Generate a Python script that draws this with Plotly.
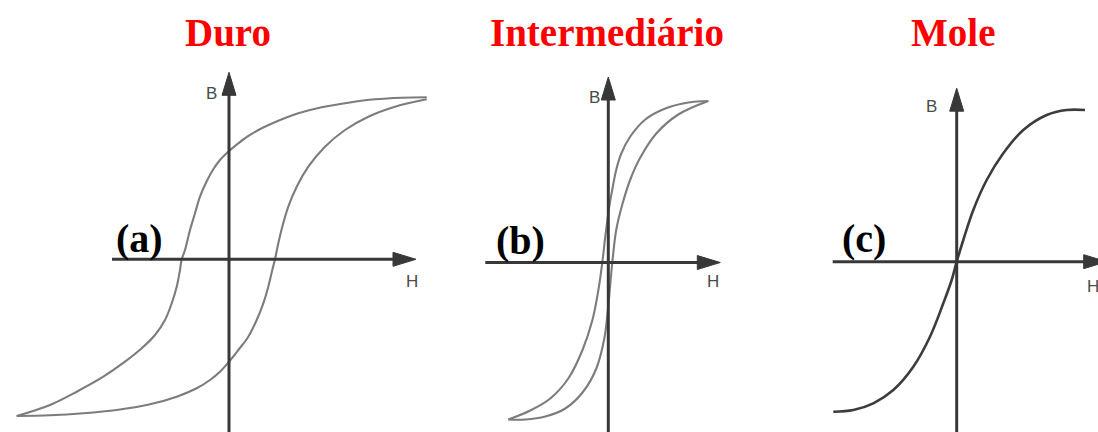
import plotly.graph_objects as go

# ---------------------------------------------------------------------------
# Hysteresis curves B(H) for three kinds of magnetic material (arbitrary units)
# ---------------------------------------------------------------------------

# (a) hard material: wide loop (descending branch from +saturation, ascending back)
duro_desc_H = [1.977, 1.727, 1.46, 1.193, 0.927, 0.693, 0.493, 0.327, 0.193, 0.093, 0.0,
               -0.09, -0.157, -0.223, -0.29, -0.34, -0.39, -0.44, -0.473, -0.49, -0.523,
               -0.573, -0.64, -0.74, -0.873, -1.04, -1.257, -1.523, -1.79, -2.123]
duro_desc_B = [1.62, 1.616, 1.60, 1.566, 1.52, 1.46, 1.386, 1.31, 1.233, 1.16, 1.083,
               0.993, 0.90, 0.78, 0.626, 0.46, 0.293, 0.093, 0.0, -0.107, -0.274,
               -0.44, -0.607, -0.757, -0.89, -1.024, -1.174, -1.324, -1.457, -1.567]
duro_asc_H = [-2.123, -1.79, -1.457, -1.123, -0.79, -0.523, -0.323, -0.19, -0.09, 0.0,
              0.093, 0.193, 0.277, 0.343, 0.393, 0.433, 0.46, 0.493, 0.533, 0.593, 0.677,
              0.793, 0.96, 1.16, 1.393, 1.66, 1.977]
duro_asc_B = [-1.567, -1.56, -1.54, -1.507, -1.45, -1.374, -1.29, -1.207, -1.124, -1.024,
              -0.907, -0.774, -0.607, -0.44, -0.274, -0.107, 0.0, 0.16, 0.326, 0.526, 0.726,
              0.926, 1.126, 1.293, 1.426, 1.526, 1.60]

# (b) intermediate material: narrow loop
inter_desc_H = [1.00, 0.80, 0.57, 0.37, 0.22, 0.13, 0.08, 0.04, 0.01, -0.03, -0.06,
                -0.10, -0.16, -0.26, -0.40, -0.58, -0.78, -1.00]
inter_desc_B = [1.615, 1.60, 1.54, 1.43, 1.26, 1.09, 0.93, 0.73, 0.56, 0.26, 0.00,
                -0.28, -0.58, -0.88, -1.16, -1.36, -1.48, -1.57]
inter_asc_H = [-1.00, -0.83, -0.63, -0.43, -0.25, -0.12, -0.04, 0.00, 0.04, 0.08, 0.14,
               0.22, 0.32, 0.48, 0.70, 1.00]
inter_asc_B = [-1.57, -1.57, -1.54, -1.46, -1.29, -1.06, -0.76, -0.43, 0.00, 0.33, 0.58,
               0.83, 1.05, 1.29, 1.48, 1.615]

# (c) soft material: no hysteresis
mole_H = [-1.234, -1.034, -0.834, -0.634, -0.434, -0.267, -0.134, -0.05, 0.0, 0.066,
          0.166, 0.30, 0.466, 0.666, 0.90, 1.10, 1.283]
mole_B = [-1.50, -1.483, -1.416, -1.283, -1.05, -0.75, -0.416, -0.183, 0.0, 0.217,
          0.517, 0.817, 1.084, 1.317, 1.467, 1.517, 1.517]

titles = ["Duro", "Intermediário", "Mole"]
tags = ["(a)", "(b)", "(c)"]

# ---------------------------------------------------------------------------
# Layout geometry (page pixels)
# ---------------------------------------------------------------------------
W, HGT = 1098, 432
PX = 100.0                      # pixels per data unit, both directions

origins = [(229.0, 259.3), (608.3, 262.5), (956.7, 261.7)]
# extents of the H and B axis arrows in data units: (H_min, H_tip), (B_min, B_tip)
axis_ext = [((-1.17, 1.87), (-1.75, 1.87)),
            ((-1.23, 1.12), (-1.72, 1.855)),
            ((-1.24, 1.50), (-1.72, 1.735))]
title_pos = [(228, 32), (607, 32), (953, 32)]
tag_pos = [(139, 238), (520, 240), (864, 238)]
b_lab = [(211.0, 93.5), (594.5, 97.5), (931.5, 106.5)]
h_lab = [(412.5, 281.5), (712.5, 281.5), (1093.0, 286.5)]

AXIS_COLOR = "#383838"
LOOP_COLOR = "#7c7c7c"
SOFT_COLOR = "#3c3c3c"

fig = go.Figure()

refs = [("x", "y"), ("x2", "y2"), ("x3", "y3")]
curves = [
    [(duro_desc_H, duro_desc_B), (duro_asc_H, duro_asc_B)],
    [(inter_desc_H, inter_desc_B), (inter_asc_H, inter_asc_B)],
    [(mole_H, mole_B)],
]
styles = [(LOOP_COLOR, 2.1), (LOOP_COLOR, 2.1), (SOFT_COLOR, 2.6)]

for (xr, yr), group, (col, lw) in zip(refs, curves, styles):
    for hs, bs in group:
        fig.add_trace(go.Scatter(
            x=hs, y=bs, xaxis=xr, yaxis=yr, mode="lines",
            line=dict(color=col, width=lw, shape="spline", smoothing=1.0),
            hoverinfo="skip", showlegend=False,
        ))

shapes = []
HEAD_L = 0.23   # arrowhead length (data units)
HEAD_W = 0.07   # arrowhead half width (data units)
for (xr, yr), ((h0, h1), (b0, b1)) in zip(refs, axis_ext):
    # H axis with arrowhead
    shapes.append(dict(type="line", xref=xr, yref=yr, x0=h0, y0=0, x1=h1 - HEAD_L / 2, y1=0,
                       line=dict(color=AXIS_COLOR, width=3)))
    shapes.append(dict(type="path", xref=xr, yref=yr,
                       path=f"M {h1} 0 L {h1 - HEAD_L} {HEAD_W} L {h1 - HEAD_L} {-HEAD_W} Z",
                       fillcolor=AXIS_COLOR, line=dict(color=AXIS_COLOR, width=1)))
    # B axis with arrowhead
    shapes.append(dict(type="line", xref=xr, yref=yr, x0=0, y0=b0, x1=0, y1=b1 - HEAD_L / 2,
                       line=dict(color=AXIS_COLOR, width=3)))
    shapes.append(dict(type="path", xref=xr, yref=yr,
                       path=f"M 0 {b1} L {HEAD_W} {b1 - HEAD_L} L {-HEAD_W} {b1 - HEAD_L} Z",
                       fillcolor=AXIS_COLOR, line=dict(color=AXIS_COLOR, width=1)))


def paper(px, py):
    return px / W, 1 - py / HGT


annotations = []
for (tx, ty), text in zip(title_pos, titles):
    x, y = paper(tx, ty)
    annotations.append(dict(x=x, y=y, xref="paper", yref="paper", text=f"<b>{text}</b>",
                            showarrow=False, xanchor="center", yanchor="middle",
                            font=dict(family="Liberation Serif", size=39, color="#ff0000")))
for (tx, ty), text in zip(tag_pos, tags):
    x, y = paper(tx, ty)
    annotations.append(dict(x=x, y=y, xref="paper", yref="paper", text=f"<b>{text}</b>",
                            showarrow=False, xanchor="center", yanchor="middle",
                            font=dict(family="Liberation Serif", size=40, color="#000000")))
for pts, letter in ((b_lab, "B"), (h_lab, "H")):
    for tx, ty in pts:
        x, y = paper(tx, ty)
        annotations.append(dict(x=x, y=y, xref="paper", yref="paper", text=letter,
                                showarrow=False, xanchor="center", yanchor="middle",
                                font=dict(family="Liberation Sans", size=17, color="#4a4a4a")))

layout = dict(
    width=W, height=HGT,
    margin=dict(l=0, r=0, t=0, b=0),
    paper_bgcolor="white", plot_bgcolor="rgba(0,0,0,0)",
    shapes=shapes, annotations=annotations, showlegend=False,
)
for i, (ox, oy) in enumerate(origins):
    sx = "" if i == 0 else str(i + 1)
    xa = dict(domain=[0, 1], range=[-ox / PX, (W - ox) / PX], visible=False, fixedrange=True)
    ya = dict(domain=[0, 1], range=[-(HGT - oy) / PX, oy / PX], visible=False, fixedrange=True)
    if i > 0:
        xa.update(overlaying="x", anchor=f"y{sx}")
        ya.update(overlaying="y", anchor=f"x{sx}")
    layout[f"xaxis{sx}"] = xa
    layout[f"yaxis{sx}"] = ya

fig.update_layout(**layout)
fig.write_html("out.html", config={"displayModeBar": False})
